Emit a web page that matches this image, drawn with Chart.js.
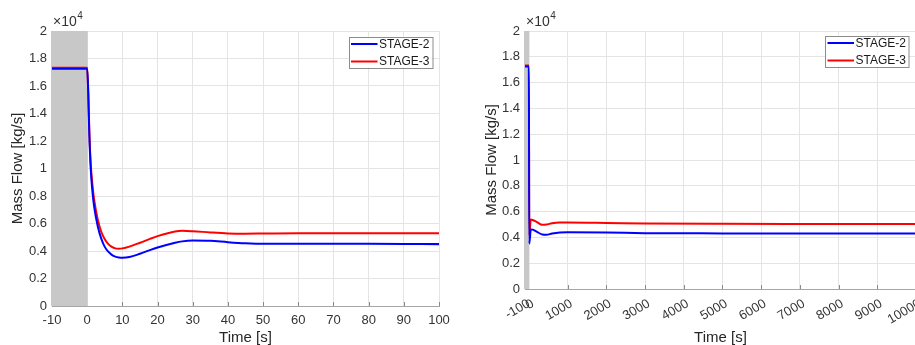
<!DOCTYPE html>
<html>
<head>
<meta charset="utf-8">
<script src="https://cdn.jsdelivr.net/npm/chart.js@4.4.0/dist/chart.umd.min.js"></script>
<style>
  html, body { margin: 0; padding: 0; background: #fff; overflow: hidden; }
  body { width: 915px; height: 345px; position: relative; }
  .panel { position: absolute; top: 0; height: 345px; }
  #leftBox { left: 0; width: 460px; }
  #rightBox { left: 460px; width: 480px; }
</style>
</head>
<body>
<div class="panel" id="leftBox"><canvas id="leftChart" width="460" height="345"></canvas></div>
<div class="panel" id="rightBox"><canvas id="rightChart" width="480" height="345"></canvas></div>
<script>
// Short window: -10 s to 100 s
const leftTime = [-10, 0, 0.3, 0.6, 1, 1.5, 2, 3, 4, 5, 6, 7, 8, 9, 10, 12, 15, 18, 20, 25, 27, 30, 35, 40, 45, 50, 60, 70, 80, 90, 100];
const leftStage2 = [17250, 17250, 15500, 12500, 10000, 8300, 7200, 5800, 4900, 4300, 3950, 3720, 3590, 3530, 3510, 3560, 3800, 4080, 4250, 4600, 4700, 4760, 4740, 4640, 4560, 4520, 4520, 4530, 4520, 4510, 4500];
const leftStage3 = [17330, 17330, 15700, 12800, 10400, 8800, 7700, 6300, 5400, 4850, 4500, 4300, 4190, 4170, 4190, 4320, 4600, 4900, 5080, 5420, 5470, 5440, 5350, 5280, 5260, 5270, 5290, 5290, 5290, 5290, 5290];

// Long window: -100 s to 10000 s
const rightTime = [-100, 0, 10, 50, 100, 200, 350, 450, 600, 800, 1000, 2000, 3000, 5000, 7000, 10000];
const rightStage2 = [17250, 17250, 3510, 4620, 4600, 4450, 4220, 4200, 4300, 4380, 4400, 4380, 4330, 4310, 4300, 4300];
const rightStage3 = [17330, 17330, 4170, 5380, 5350, 5200, 4980, 5000, 5100, 5150, 5150, 5120, 5080, 5050, 5040, 5040];
const rightTicks = [-100, 0, 1000, 2000, 3000, 4000, 5000, 6000, 7000, 8000, 9000, 10000];

const seriesNames = ['STAGE-2', 'STAGE-3'];
const seriesColors = ['#0000ff', '#ff0000'];

Chart.defaults.font.family = '"Liberation Sans", Arial, Helvetica, sans-serif';
Chart.defaults.color = '#333333';

const gridColor = '#e4e4e4';
const axisColor = '#a6a6a6';

// shaded pre-event interval, tick marks, x10^4 multiplier and boxed legend
const decorPlugin = {
    id: 'decor',
    beforeDatasetsDraw(chart, args, opts) {
        const {ctx, chartArea} = chart;
        const xs = chart.scales.x;
        const x0 = xs.getPixelForValue(opts.shadeFrom);
        const x1 = xs.getPixelForValue(opts.shadeTo);
        ctx.save();
        ctx.fillStyle = '#c8c8c8';
        ctx.fillRect(x0 - 1, chartArea.top, x1 - x0 + 1.5, chartArea.bottom - chartArea.top);
        ctx.restore();
    },
    afterDraw(chart, args, opts) {
        const {ctx, chartArea} = chart;
        const xs = chart.scales.x;
        ctx.save();
        // inward tick marks on the time axis
        ctx.strokeStyle = '#8a8a8a';
        ctx.lineWidth = 1;
        xs.ticks.forEach(t => {
            const px = Math.round(xs.getPixelForValue(t.value)) + 0.5;
            if (t.value <= opts.shadeTo) return;
            ctx.beginPath();
            ctx.moveTo(px, chartArea.bottom);
            ctx.lineTo(px, chartArea.bottom - 4);
            ctx.stroke();
        });

        // exponent label
        ctx.fillStyle = '#333333';
        ctx.textBaseline = 'middle';
        ctx.textAlign = 'left';
        ctx.font = '14px "Liberation Sans", Arial, sans-serif';
        const base = '\u00d710';
        ctx.fillText(base, chartArea.left + 1, chartArea.top - 8.5);
        const w = ctx.measureText(base).width;
        ctx.font = '10px "Liberation Sans", Arial, sans-serif';
        ctx.fillText('4', chartArea.left + 1 + w + 0.5, chartArea.top - 15);

        // legend
        const bw = 83.5, bh = 31;
        const bx = chartArea.right - opts.legendRight - bw;
        const by = chartArea.top + opts.legendTop;
        ctx.fillStyle = '#ffffff';
        ctx.fillRect(bx, by, bw, bh);
        ctx.strokeStyle = '#8c8c8c';
        ctx.strokeRect(Math.round(bx) + 0.5, Math.round(by) + 0.5, bw, bh);
        ctx.font = '12px "Liberation Sans", Arial, sans-serif';
        chart.data.datasets.forEach((ds, i) => {
            const cy = by + 7.5 + i * 17.5;
            ctx.strokeStyle = ds.borderColor;
            ctx.lineWidth = 2;
            ctx.beginPath();
            ctx.moveTo(bx + 2.5, cy);
            ctx.lineTo(bx + 29, cy);
            ctx.stroke();
            ctx.fillStyle = '#1a1a1a';
            ctx.fillText(ds.label, bx + 30.5, cy + 0.5);
        });
        ctx.restore();
    }
};

function makeDatasets(times, a, b) {
    return [a, b].map((vals, i) => ({
        label: seriesNames[i],
        data: times.map((t, k) => ({x: t, y: vals[k]})),
        borderColor: seriesColors[i],
        borderWidth: 2,
        pointRadius: 0,
        cubicInterpolationMode: 'monotone',
        fill: false
    }));
}

function makeOptions(cfg) {
    return {
        responsive: false,
        animation: false,
        layout: {padding: {top: 31, right: cfg.padRight, left: 0, bottom: 0}},
        plugins: {
            legend: {display: false},
            tooltip: {enabled: false},
            decor: {
                shadeFrom: cfg.xMin,
                shadeTo: 0,
                legendRight: cfg.legendRight,
                legendTop: cfg.legendTop
            }
        },
        scales: {
            x: {
                type: 'linear',
                min: cfg.xMin,
                max: cfg.xMax,
                afterFit: s => { s.height = cfg.xHeight; },
                afterBuildTicks: cfg.xTicks ? s => { s.ticks = cfg.xTicks.map(v => ({value: v})); } : undefined,
                ticks: {
                    stepSize: cfg.xStep,
                    autoSkip: false,
                    minRotation: cfg.rotation,
                    maxRotation: cfg.rotation,
                    padding: cfg.xPad,
                    labelOffset: cfg.xLabelShift,
                    font: {size: 13},
                    color: '#333333',
                    callback: v => String(v)
                },
                grid: {color: gridColor, drawTicks: false},
                border: {display: true, color: axisColor},
                title: {
                    display: true,
                    text: 'Time [s]',
                    font: {size: 15, lineHeight: 0.9},
                    padding: {top: 0, bottom: 0},
                    color: '#262626'
                }
            },
            y: {
                min: 0,
                max: 20000,
                afterFit: s => { s.width = cfg.yWidth; },
                ticks: {
                    stepSize: 2000,
                    autoSkip: false,
                    padding: 5,
                    font: {size: 13},
                    color: '#333333',
                    callback: v => parseFloat((v / 10000).toFixed(1)).toString()
                },
                grid: {color: gridColor, drawTicks: false},
                border: {display: true, color: axisColor},
                title: {
                    display: true,
                    text: 'Mass Flow [kg/s]',
                    font: {size: 15, lineHeight: 1},
                    padding: {top: cfg.yTitlePad, bottom: 0},
                    color: '#262626'
                }
            }
        }
    };
}

window.onload = function() {
    new Chart(document.getElementById('leftChart').getContext('2d'), {
        type: 'line',
        data: {datasets: makeDatasets(leftTime, leftStage2, leftStage3)},
        options: makeOptions({
            xMin: -10, xMax: 100, xStep: 10, rotation: 0, xPad: 7, xLabelShift: 0,
            xHeight: 39, yWidth: 52, padRight: 21, yTitlePad: 10.5,
            legendRight: 7, legendTop: 5.5
        }),
        plugins: [decorPlugin]
    });

    new Chart(document.getElementById('rightChart').getContext('2d'), {
        type: 'line',
        data: {datasets: makeDatasets(rightTime, rightStage2, rightStage3)},
        options: makeOptions({
            xMin: -100, xMax: 10000, xStep: 1000, xTicks: rightTicks, rotation: 30, xPad: 7, xLabelShift: 4,
            xHeight: 56, yWidth: 65, padRight: 24, yTitlePad: 24,
            legendRight: 7.5, legendTop: 4.5
        }),
        plugins: [decorPlugin]
    });
};
</script>
</body>
</html>
